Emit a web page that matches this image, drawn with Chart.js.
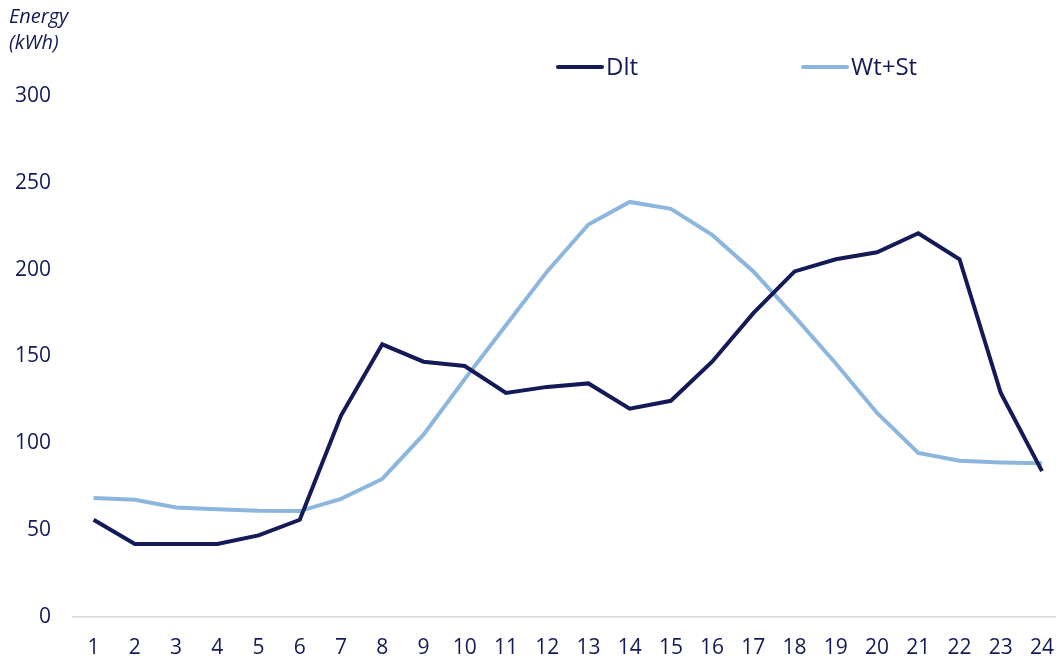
<!DOCTYPE html>
<html>
<head>
<meta charset="utf-8">
<script src="https://cdn.jsdelivr.net/npm/chart.js@4/dist/chart.umd.min.js"></script>
<style>
    html, body { margin: 0; padding: 0; background: #fff; overflow: hidden; }
    #wrap { width: 1056px; height: 660px; overflow: hidden; }
    #box { width: 1072px; height: 660px; position: relative; }
</style>
</head>
<body>
<div id="wrap"><div id="box"><canvas id="chart"></canvas></div></div>
<script>
// 小时
const hours = ['1', '2', '3', '4', '5', '6', '7', '8', '9', '10', '11', '12',
    '13', '14', '15', '16', '17', '18', '19', '20', '21', '22', '23', '24'];

// Dlt 系列
const dltValues = [56, 42, 42, 42, 47, 56, 116, 157, 147, 144.5, 129, 132.5,
    134.5, 120, 124.5, 147, 175, 199, 206, 210, 221, 206, 129, 84];

// Wt+St 系列
const wtStValues = [68.5, 67.5, 63, 62, 61.2, 61, 68, 79.5, 105, 137, 168, 199,
    226, 239, 235, 220, 199, 173, 146, 117.5, 94.5, 90, 89, 88.5];

const yTicks = [0, 50, 100, 150, 200, 250, 300];

const NAVY = '#141a57';
const LIGHT_BLUE = '#8db6df';
const FONT = "'Open Sans', 'Noto Sans', sans-serif";

// 自定义图例：线段 + 文本
const lineLegend = {
    id: 'lineLegend',
    afterDraw(chart) {
        const ctx = chart.ctx;
        const y = 67;
        const items = [
            { x: 558, label: 'Dlt', color: NAVY },
            { x: 803, label: 'Wt+St', color: LIGHT_BLUE }
        ];
        ctx.save();
        ctx.font = '24px ' + FONT;
        ctx.textBaseline = 'middle';
        ctx.textAlign = 'left';
        items.forEach(it => {
            ctx.strokeStyle = it.color;
            ctx.lineWidth = 4;
            ctx.lineCap = 'round';
            ctx.beginPath();
            ctx.moveTo(it.x, y);
            ctx.lineTo(it.x + 44, y);
            ctx.stroke();
            ctx.fillStyle = NAVY;
            ctx.fillText(it.label, it.x + 48, y + 1);
        });
        ctx.restore();
    }
};

new Chart(document.getElementById('chart'), {
    type: 'line',
    data: {
        labels: hours,
        datasets: [
            {
                label: 'Dlt',
                data: dltValues,
                borderColor: NAVY,
                backgroundColor: NAVY,
                borderWidth: 4,
                pointRadius: 0,
                tension: 0
            },
            {
                label: 'Wt+St',
                data: wtStValues,
                borderColor: LIGHT_BLUE,
                backgroundColor: LIGHT_BLUE,
                borderWidth: 4,
                pointRadius: 0,
                tension: 0
            }
        ]
    },
    options: {
        responsive: true,
        maintainAspectRatio: false,
        animation: false,
        layout: { padding: { left: 9, right: 0, top: 0, bottom: 0 } },
        plugins: {
            legend: { display: false },
            tooltip: { enabled: false },
            title: {
                display: true,
                text: ['Energy', '(kWh)'],
                align: 'start',
                color: NAVY,
                font: { family: FONT, size: 20, style: 'italic', weight: 'normal', lineHeight: 1.3 },
                padding: { top: 4, bottom: 40 }
            }
        },
        scales: {
            x: {
                offset: true,
                grid: { display: false, drawTicks: false },
                border: { display: true, color: '#d9d9d9', width: 1.5 },
                ticks: {
                    color: NAVY,
                    font: { family: FONT, size: 21 },
                    padding: 18,
                    maxRotation: 0,
                    autoSkip: false
                },
                afterFit(scale) { scale.height = 43; }
            },
            y: {
                min: 0,
                max: 300,
                afterBuildTicks(scale) {
                    scale.ticks = yTicks.map(v => ({ value: v }));
                },
                grid: { display: false, drawTicks: false },
                border: { display: false },
                ticks: {
                    color: NAVY,
                    font: { family: FONT, size: 21 },
                    padding: 22
                },
                afterFit(scale) { scale.width = 64; }
            }
        }
    },
    plugins: [lineLegend]
});
</script>
</body>
</html>
